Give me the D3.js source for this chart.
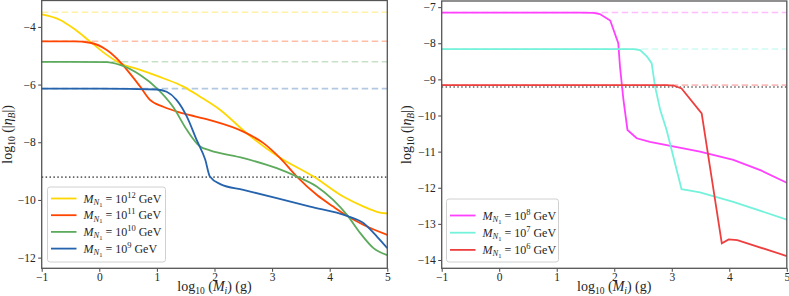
<!DOCTYPE html>
<html>
<head>
<meta charset="utf-8">
<script src="https://cdn.jsdelivr.net/npm/d3@7"></script>
<style>
body { margin: 0; background: #fff; }
text { font-family: "Liberation Serif", "DejaVu Serif", serif; fill: #262626; }
</style>
</head>
<body>
<svg id="chart" width="789" height="296"></svg>
<script>
// ---- data: left panel (high M_N1) ----
const xTicks = [-1, 0, 1, 2, 3, 4, 5];

const yellowX = [-1, -0.68, -0.45, -0.16, 0.13, 0.36, 0.71, 1.11, 1.46, 1.75, 2.10, 2.56, 3.11, 3.72, 4.24, 4.59, 4.82, 5.0];
const yellowY = [-3.57, -3.76, -4.05, -4.51, -4.97, -5.26, -5.49, -5.78, -6.07, -6.42, -6.88, -7.69, -8.50, -9.19, -9.89, -10.23, -10.41, -10.47];

const redX = [-1, -0.7, -0.45, -0.16, 0.13, 0.36, 0.53, 0.71, 0.88, 1.11, 1.46, 1.92, 2.50, 2.85, 3.14, 3.43, 3.78, 4.06, 4.30, 4.59, 5.0];
const redY = [-4.50, -4.50, -4.50, -4.55, -4.80, -5.21, -5.61, -6.07, -6.53, -6.77, -7.00, -7.23, -7.63, -8.03, -8.55, -9.19, -9.83, -10.23, -10.55, -10.87, -11.21];

const greenX = [-1, -0.5, 0.13, 0.36, 0.71, 1.0, 1.28, 1.52, 1.75, 1.92, 2.50, 3.08, 3.43, 3.78, 4.06, 4.30, 4.53, 4.76, 5.0];
const greenY = [-5.21, -5.21, -5.22, -5.32, -5.67, -6.13, -6.77, -7.57, -8.15, -8.28, -8.55, -8.90, -9.19, -9.54, -10.0, -10.52, -11.15, -11.67, -11.91];

const blueX = [-1, 0, 1.0, 1.17, 1.34, 1.52, 1.69, 1.84, 1.92, 2.10, 2.50, 3.08, 3.66, 4.30, 4.59, 4.82, 5.0];
const blueY = [-6.14, -6.14, -6.17, -6.25, -6.53, -7.11, -7.92, -8.61, -9.19, -9.45, -9.65, -9.94, -10.23, -10.55, -10.81, -11.27, -11.67];

const leftLevels = [-3.49, -4.50, -5.21, -6.14];   // dashed plateau lines
const leftExps = ["12", "11", "10", "9"];
const leftYTicks = [-12, -10, -8, -6, -4];

// ---- data: right panel (low M_N1) ----
const magentaX = [-1, 1.4, 1.64, 1.75, 1.93, 2.07, 2.10, 2.16, 2.23, 2.39, 2.62, 2.91, 3.49, 4.07, 4.55, 5.0];
const magentaY = [-7.15, -7.15, -7.16, -7.19, -7.37, -8.0, -8.65, -9.57, -10.40, -10.63, -10.73, -10.82, -11.0, -11.23, -11.52, -11.86];

const cyanX = [-1, 2.33, 2.45, 2.57, 2.65, 2.71, 2.80, 2.91, 3.17, 3.32, 3.49, 4.07, 5.0];
const cyanY = [-8.16, -8.16, -8.19, -8.37, -8.55, -9.20, -9.85, -10.40, -12.04, -12.08, -12.13, -12.39, -12.88];

const red2X = [-1, 2.91, 3.03, 3.17, 3.52, 3.87, 3.99, 4.14, 5.0];
const red2Y = [-9.16, -9.16, -9.17, -9.25, -9.94, -13.54, -13.43, -13.45, -13.89];

const rightLevels = [-7.15, -8.16, -9.16];
const rightExps = ["8", "7", "6"];
const rightYTicks = [-14, -13, -12, -11, -10, -9, -8, -7];

const observed = -9.21; // gray dotted line

const svg = d3.select("#chart");

const zip = (xs, ys) => xs.map((x, i) => [x, ys[i]]);
const fmt = d => d < 0 ? "\u2212" + Math.abs(d) : String(d);

// rich text with sub/superscripts: segments [text, size, italic, shift]
function richText(sel, segs) {
    let prev = 0;
    segs.forEach(([t, size, it, shift]) => {
        sel.append("tspan")
            .attr("dy", shift - prev)
            .attr("font-size", size)
            .attr("font-style", it ? "italic" : "normal")
            .text(t);
        prev = shift;
    });
}

function drawPanel(p) {
    const x = d3.scaleLinear().domain([-1, 5]).range([p.x0, p.x1]);
    const y = d3.scaleLinear().domain(p.yDomain).range([p.y1, p.y0]);
    const g = svg.append("g");

    // dashed plateau levels
    p.series.forEach((s, i) => {
        g.append("line")
            .attr("x1", x(-1)).attr("x2", x(5))
            .attr("y1", y(p.levels[i])).attr("y2", y(p.levels[i]))
            .attr("stroke", s.color).attr("stroke-opacity", 0.35)
            .attr("stroke-width", 1.6).attr("stroke-dasharray", "6.5,3.5");
    });

    // observed value
    g.append("line")
        .attr("x1", x(-1)).attr("x2", x(5))
        .attr("y1", y(observed)).attr("y2", y(observed))
        .attr("stroke", "#666").attr("stroke-width", 1.6)
        .attr("stroke-dasharray", "1.5,2.4");

    const line = d3.line().x(d => x(d[0])).y(d => y(d[1])).curve(p.curve);
    p.series.forEach(s => {
        g.append("path")
            .attr("d", line(zip(s.x, s.y)))
            .attr("fill", "none")
            .attr("stroke", s.color)
            .attr("stroke-width", 1.8);
    });

    // axes
    const xa = g.append("g").attr("transform", `translate(0,${p.y1})`)
        .call(d3.axisBottom(x).tickValues(xTicks).tickFormat(fmt).tickSize(3.5).tickPadding(1));
    const ya = g.append("g").attr("transform", `translate(${p.x0},0)`)
        .call(d3.axisLeft(y).tickValues(p.yTicks).tickFormat(fmt).tickSize(3.5).tickPadding(2.5));
    [xa, ya].forEach(a => {
        a.select(".domain").remove();
        a.selectAll("line").attr("stroke", "#444");
        a.selectAll("text").attr("font-size", 11.5).attr("font-family", "Liberation Serif").attr("fill", "#262626");
    });

    g.append("rect")
        .attr("x", p.x0).attr("y", p.y0)
        .attr("width", p.x1 - p.x0).attr("height", p.y1 - p.y0)
        .attr("fill", "none").attr("stroke", "#555").attr("stroke-width", 1.3);

    // x label
    const xl = g.append("text")
        .attr("x", (p.x0 + p.x1) / 2).attr("y", 290.5)
        .attr("text-anchor", "middle");
    richText(xl, [["log", 14, false, 0], ["10", 9.5, false, 3], [" (", 14, false, 0], ["M", 14, true, 0],
        ["i", 9.5, true, 3], [")  (g)", 14, false, 0]]);

    // y label
    const yl = g.append("text")
        .attr("transform", `translate(${p.ylx},${(p.y0 + p.y1) / 2}) rotate(-90)`)
        .attr("text-anchor", "middle");
    richText(yl, [["log", 14, false, 0], ["10", 9.5, false, 3], [" (|", 14, false, 0], ["\u03b7", 14, true, 0],
        ["B", 9.5, true, 3], ["|)", 14, false, 0]]);

    // legend
    const lg = g.append("g");
    lg.append("rect")
        .attr("x", p.leg.x).attr("y", p.leg.y)
        .attr("width", p.leg.w).attr("height", p.leg.h)
        .attr("rx", 2.5).attr("fill", "#fff").attr("fill-opacity", 0.8)
        .attr("stroke", "#d0d0d0").attr("stroke-width", 1);
    p.series.forEach((s, i) => {
        const ry = p.leg.y + p.leg.first + i * p.leg.step;
        lg.append("line")
            .attr("x1", p.leg.x + 3.5).attr("x2", p.leg.x + 29)
            .attr("y1", ry).attr("y2", ry)
            .attr("stroke", s.color).attr("stroke-width", 1.8);
        const t = lg.append("text").attr("x", p.leg.x + 36).attr("y", ry + 4);
        richText(t, [["M", 12, true, 0], ["N", 8.5, true, 2.5], ["1", 6.5, false, 4], [" = 10", 12, false, 0],
            [p.exps[i], 8.5, false, -5], [p.exps[i] === "12" ? "  GeV" : " GeV", 12, false, 0]]);
    });
}

drawPanel({
    x0: 41.7, x1: 387.3, y0: 0.5, y1: 268.3,
    yDomain: [-12.37, -3.085], yTicks: leftYTicks, ylx: 12,
    curve: d3.curveMonotoneX,
    levels: leftLevels, exps: leftExps,
    series: [
        { color: "#ffd700", x: yellowX, y: yellowY },
        { color: "#ff4500", x: redX, y: redY },
        { color: "#5daa5d", x: greenX, y: greenY },
        { color: "#2563ad", x: blueX, y: blueY }
    ],
    leg: { x: 47.5, y: 187, w: 118, h: 75, first: 11.5, step: 16.7 }
});

drawPanel({
    x0: 441.7, x1: 786.8, y0: 1, y1: 268.3,
    yDomain: [-14.23, -6.83], yTicks: rightYTicks, ylx: 411,
    curve: d3.curveLinear,
    levels: rightLevels, exps: rightExps,
    series: [
        { color: "#ff40ff", x: magentaX, y: magentaY },
        { color: "#74f2dc", x: cyanX, y: cyanY },
        { color: "#ee3f3f", x: red2X, y: red2Y }
    ],
    leg: { x: 446.5, y: 199, w: 112, h: 63, first: 16.5, step: 17.2 }
});
</script>
</body>
</html>
